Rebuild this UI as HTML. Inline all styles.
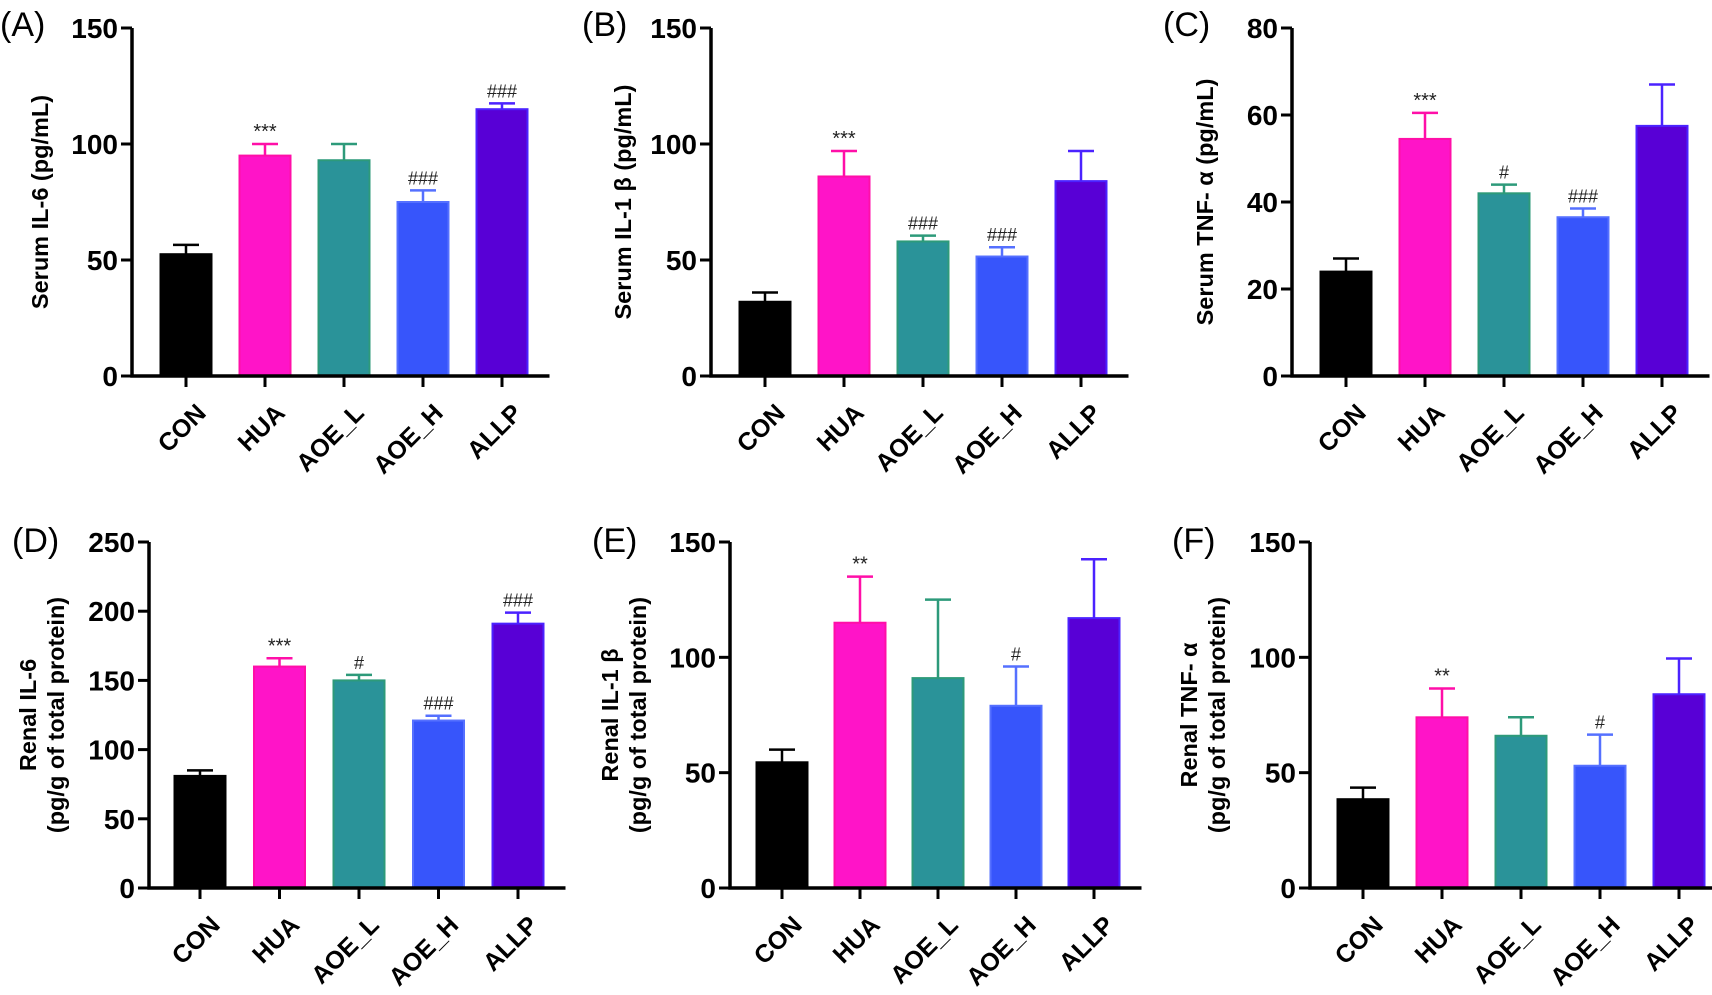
<!DOCTYPE html>
<html><head><meta charset="utf-8"><style>
html,body{margin:0;padding:0;background:#fff;}
svg{display:block;font-family:"Liberation Sans",Arial,sans-serif;}
</style></head><body>
<svg id="fig" width="1712" height="995" viewBox="0 0 1712 995" xmlns="http://www.w3.org/2000/svg"></svg>
<script>
const categories = ["CON","HUA","AOE_L","AOE_H","ALLP"];
const valuesA = [52.5,95,93,75,115];
const errorsA = [4,5,7,5,2.5];
const sigA = ["","***","","###","###"];
const valuesB = [32,86,58,51.5,84];
const errorsB = [4,11,2.5,4,13];
const sigB = ["","***","###","###",""];
const valuesC = [24,54.5,42,36.5,57.5];
const errorsC = [3,6,2,2,9.5];
const sigC = ["","***","#","###",""];
const valuesD = [81,160,150,121,191];
const errorsD = [4,6,4,3.5,8];
const sigD = ["","***","#","###","###"];
const valuesE = [54.5,115,91,79,117];
const errorsE = [5.5,20,34,17,25.5];
const sigE = ["","**","","#",""];
const valuesF = [38.5,74,66,53,84];
const errorsF = [5,12.5,8,13.5,15.5];
const sigF = ["","**","","#",""];
const ticksA = [0,50,100,150];
const ticksC = [0,20,40,60,80];
const ticksD = [0,50,100,150,200,250];

const fills = ["#000000","#ff14c8","#2a9399","#3755fb","#5800d6"];
const strokes = ["#000000","#ff0fa8","#2d9a7a","#5570ff","#4b22ff"];

const panels = [
 {id:"a",letter:"(A)",lx:0,ly:36,vals:valuesA,errs:errorsA,sig:sigA,ticks:ticksA,max:150,axisX:132,top:28,zero:376,first:186,step:79,bw:51,title:["Serum IL-6 (pg/mL)"],tx:[42]},
 {id:"b",letter:"(B)",lx:582,ly:36,vals:valuesB,errs:errorsB,sig:sigB,ticks:ticksA,max:150,axisX:711,top:28,zero:376,first:765,step:79,bw:51,title:["Serum IL-1 β (pg/mL)"],tx:[625]},
 {id:"c",letter:"(C)",lx:1163,ly:36,vals:valuesC,errs:errorsC,sig:sigC,ticks:ticksC,max:80,axisX:1292,top:28,zero:376,first:1346,step:79,bw:51,title:["Serum TNF- α (pg/mL)"],tx:[1207]},
 {id:"d",letter:"(D)",lx:12,ly:552,vals:valuesD,errs:errorsD,sig:sigD,ticks:ticksD,max:250,axisX:149,top:542,zero:888,first:200,step:79.5,bw:51,title:["Renal IL-6","(pg/g of total protein)"],tx:[30,58]},
 {id:"e",letter:"(E)",lx:592,ly:552,vals:valuesE,errs:errorsE,sig:sigE,ticks:ticksA,max:150,axisX:730,top:542,zero:888,first:782,step:78,bw:51,title:["Renal IL-1 β","(pg/g of total protein)"],tx:[612,640]},
 {id:"f",letter:"(F)",lx:1172,ly:552,vals:valuesF,errs:errorsF,sig:sigF,ticks:ticksA,max:150,axisX:1310,top:542,zero:888,first:1363,step:79,bw:51,title:["Renal TNF- α","(pg/g of total protein)"],tx:[1191,1219]}
];

const NS="http://www.w3.org/2000/svg";
const svg=document.getElementById("fig");
function mk(tag,attrs,parent){const e=document.createElementNS(NS,tag);for(const k in attrs)e.setAttribute(k,attrs[k]);(parent||svg).appendChild(e);return e;}

panels.forEach(p=>{
  const g=mk("g",{});
  
  
  const y=v=>p.zero-(v/p.max)*(p.zero-p.top);
  const xc=i=>p.first+i*p.step;
  const xEnd=xc(4)+p.bw/2+22;
  const L=mk("text",{x:p.lx,y:p.ly,"font-size":34,fill:"#000"},g);L.textContent=p.letter;
  
  
  const cy=(p.top+p.zero)/2;
  p.title.forEach((t,k)=>{
    const T=mk("text",{x:p.tx[k],y:cy,"font-size":23.5,"font-weight":"bold","text-anchor":"middle",transform:`rotate(-90 ${p.tx[k]} ${cy})`,"dominant-baseline":"middle"},g);
    T.textContent=t;
    
    
  });
  p.vals.forEach((v,i)=>{
    const top=y(v+p.errs[i]);
    const eb=mk("path",{d:`M${xc(i)} ${y(v)}V${top}M${xc(i)-13} ${top}H${xc(i)+13}`,stroke:strokes[i],"stroke-width":2.5,fill:"none"},g);
    
    
    const r=mk("rect",{x:xc(i)-p.bw/2,y:y(v),width:p.bw,height:p.zero-y(v),fill:fills[i],stroke:strokes[i],"stroke-width":2},g);
    
    
    if(p.sig[i]){
      const s=mk("text",{x:xc(i),y:top-6,"font-size":p.sig[i][0]=="*"?20:18,"text-anchor":"middle",fill:"#222"},g);
      s.textContent=p.sig[i];
      
      
    }
    mk("line",{x1:xc(i),x2:xc(i),y1:p.zero,y2:p.zero+11,stroke:"#000","stroke-width":3},g);
    const lx=xc(i)+9, ly=p.zero+26;
    const xl=mk("text",{x:lx,y:ly,"font-size":25,"font-weight":"bold","text-anchor":"end","dominant-baseline":"hanging",transform:`rotate(-45 ${lx} ${ly})`},g);
    xl.textContent=categories[i];
    
    
  });
  const ax=mk("path",{d:`M${p.axisX} ${p.top}V${p.zero}H${xEnd}`,stroke:"#000","stroke-width":3.5,fill:"none"},g);
  
  
  p.ticks.forEach(t=>{
    mk("line",{x1:p.axisX-11,x2:p.axisX,y1:y(t),y2:y(t),stroke:"#000","stroke-width":3},g);
    const tl=mk("text",{x:p.axisX-14,y:y(t)+10,"font-size":28,"font-weight":"bold","text-anchor":"end"},g);
    tl.textContent=t;
    
    
  });
});
</script>
</body></html>
